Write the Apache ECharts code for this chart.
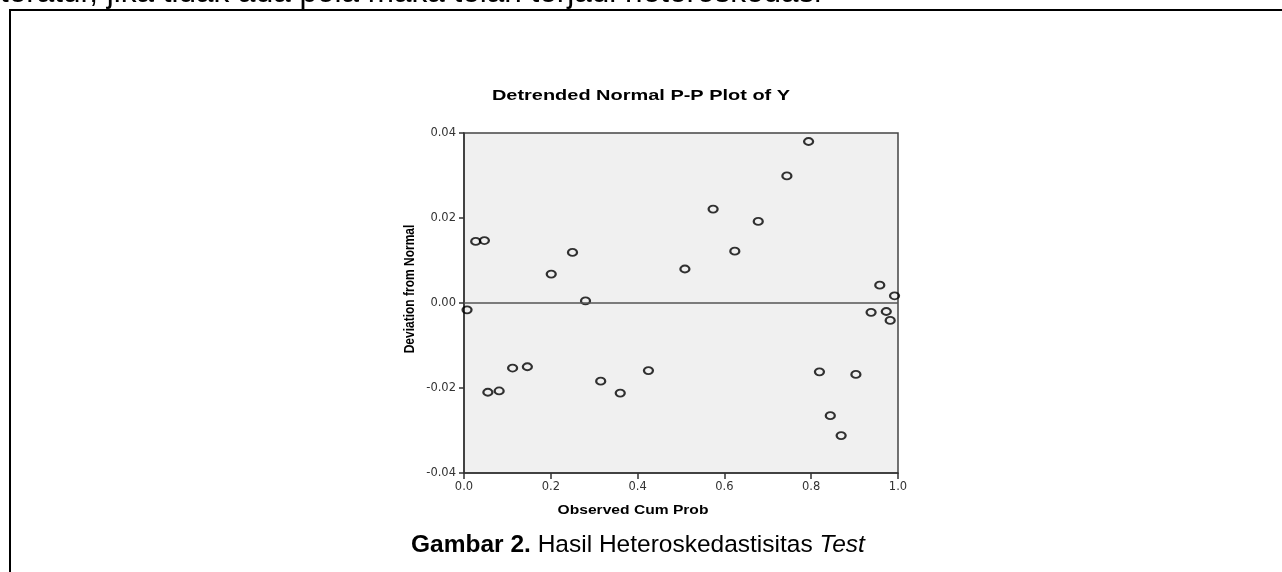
<!DOCTYPE html>
<html>
<head>
<meta charset="utf-8">
<script src="https://cdn.jsdelivr.net/npm/echarts@6/dist/echarts.min.js"></script>
<style>
  html, body { margin: 0; padding: 0; background: #fff; }
  #chart { width: 1282px; height: 572px; }
</style>
</head>
<body>
<div id="chart"></div>
<script>
// observed cumulative probability (x) and deviation from normal (y)
var observedCumProb = [0.007, 0.027, 0.047, 0.055, 0.081, 0.112, 0.146, 0.201, 0.250, 0.280,
  0.315, 0.360, 0.425, 0.509, 0.574, 0.624, 0.678, 0.744, 0.794, 0.819,
  0.844, 0.869, 0.903, 0.938, 0.958, 0.973, 0.982, 0.992]
var deviation = [-0.0016, 0.0145, 0.0147, -0.0210, -0.0207, -0.0153, -0.0150, 0.0068, 0.0119, 0.0005,
  -0.0184, -0.0212, -0.0159, 0.0080, 0.0221, 0.0122, 0.0192, 0.0299, 0.0380, -0.0162,
  -0.0265, -0.0312, -0.0168, -0.0022, 0.0042, -0.0020, -0.0041, 0.0017]
var yRange = [-0.04, 0.04]
var xRange = [0, 1]

var chartTitle = 'Detrended Normal P-P Plot of Y'
var xTitle = 'Observed Cum Prob'
var yTitle = 'Deviation from Normal'
var pageText = 'teratur, jika tidak ada pola maka telah terjadi heteroskedasi'

var points = observedCumProb.map(function (x, i) {
  return [x, deviation[i]]
})

var myChart = echarts.init(document.getElementById('chart'))

var option = {
  backgroundColor: '#fff',
  animation: false,
  grid: {
    left: 464, top: 133, width: 434, height: 340,
    show: true,
    backgroundColor: '#f0f0f0',
    borderColor: '#444',
    borderWidth: 1.5
  },
  xAxis: {
    type: 'value',
    min: xRange[0], max: xRange[1], interval: 0.2,
    axisLine: { show: true, onZero: false, lineStyle: { color: '#333', width: 1.5 } },
    axisTick: { show: true, length: 6, lineStyle: { color: '#333', width: 1.5 } },
    axisLabel: {
      margin: 8, color: '#333', fontSize: 11.5, fontFamily: 'DejaVu Sans',
      formatter: function (v) { return v.toFixed(1) }
    },
    splitLine: { show: false }
  },
  yAxis: {
    type: 'value',
    min: yRange[0], max: yRange[1], interval: 0.02,
    axisLine: { show: true, onZero: false, lineStyle: { color: '#333', width: 1.5 } },
    axisTick: { show: true, length: 5, lineStyle: { color: '#333', width: 1.5 } },
    axisLabel: {
      margin: 8, color: '#333', fontSize: 11.5, fontFamily: 'DejaVu Sans',
      formatter: function (v) { return v.toFixed(2) }
    },
    splitLine: { show: false }
  },
  series: [{
    type: 'scatter',
    data: points,
    clip: true,
    symbol: 'circle',
    symbolSize: [9, 7],
    itemStyle: { color: 'rgba(0,0,0,0)', borderColor: '#000', borderWidth: 2 },
    markLine: {
      silent: true,
      symbol: ['none', 'none'],
      label: { show: false },
      lineStyle: { color: '#555', width: 1.5, type: 'solid' },
      data: [{ yAxis: 0 }]
    }
  }],
  graphic: [
    // frame around the figure
    { type: 'rect', shape: { x: 10, y: 10, width: 1300, height: 600 },
      style: { fill: 'none', stroke: '#000', lineWidth: 2 } },
    // tail of the paragraph above the figure
    { type: 'text', x: 0, y: 9.5,
      style: { text: pageText, fill: '#000', fontSize: 31.5, fontFamily: 'Liberation Sans',
        align: 'left', verticalAlign: 'bottom' } },
    { type: 'text', x: 641, y: 96, scaleX: 1.33,
      style: { text: chartTitle, fill: '#000', fontSize: 15, fontWeight: 'bold', fontFamily: 'Liberation Sans',
        align: 'center', verticalAlign: 'middle' } },
    { type: 'text', x: 633, y: 511, scaleX: 1.3,
      style: { text: xTitle, fill: '#000', fontSize: 12, fontWeight: 'bold', fontFamily: 'Liberation Sans',
        align: 'center', verticalAlign: 'middle' } },
    { type: 'text', x: 410, y: 289, rotation: Math.PI / 2, scaleY: 1.2,
      style: { text: yTitle, fill: '#000', fontSize: 12, fontWeight: 'bold', fontFamily: 'Liberation Sans',
        align: 'center', verticalAlign: 'middle' } },
    // figure caption
    { type: 'text', x: 411, y: 545,
      style: {
        text: '{b|Gambar 2.} Hasil Heteroskedastisitas {i|Test}',
        fill: '#000', fontSize: 24.5, fontFamily: 'Liberation Sans',
        align: 'left', verticalAlign: 'middle',
        rich: {
          b: { fontSize: 24.5, fontWeight: 'bold', fontFamily: 'Liberation Sans', fill: '#000' },
          i: { fontSize: 24.5, fontStyle: 'italic', fontFamily: 'Liberation Sans', fill: '#000' }
        }
      } }
  ]
}

myChart.setOption(option)
</script>
</body>
</html>
